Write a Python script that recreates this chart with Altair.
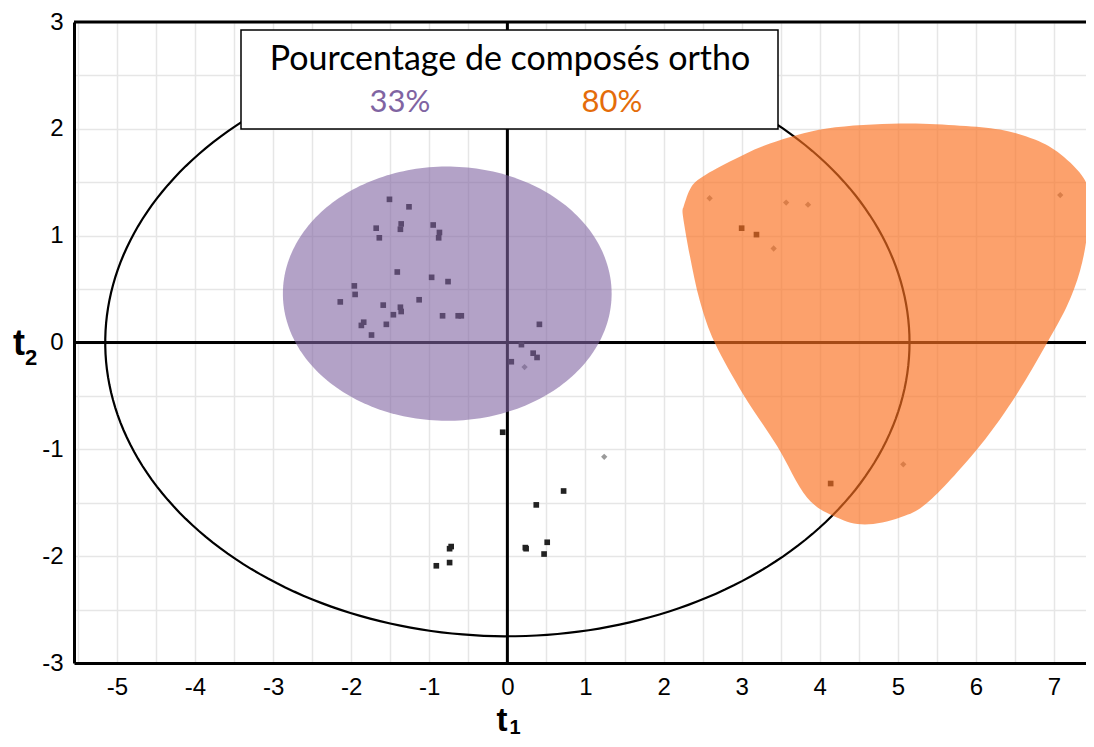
import altair as alt
import pandas as pd
import numpy as np

# ---------------- data ----------------
# black squares (scores)
sq_t1 = [-1.51, -1.26, -1.36, -1.37, -1.68, -1.64, -0.95, -0.87, -0.88, -1.41, -0.97, -0.76,
         -1.96, -1.95, -2.14, -1.13, -1.59, -1.37, -1.36, -1.46, -0.83, -0.63, -0.59, -1.84,
         -1.87, -1.55, -1.74, 0.41, 0.18, 0.33, 0.38, 0.05,
         -0.06, 0.72, 0.37, 0.23, 0.24, 0.51, 0.47, -0.72, -0.74, -0.74, -0.91,
         3.00, 3.19, 4.14]
sq_t2 = [1.34, 1.27, 1.11, 1.06, 1.07, 0.98, 1.10, 1.03, 0.98, 0.66, 0.61, 0.57,
         0.53, 0.45, 0.38, 0.40, 0.35, 0.33, 0.29, 0.26, 0.25, 0.25, 0.25, 0.19,
         0.16, 0.17, 0.07, 0.17, -0.02, -0.10, -0.14, -0.18,
         -0.84, -1.39, -1.52, -1.92, -1.93, -1.87, -1.98, -1.91, -1.93, -2.06, -2.09,
         1.07, 1.01, -1.32]
# grey diamonds
dm_t1 = [0.22, 1.24, 2.59, 3.57, 3.85, 3.41, 7.08, 5.07]
dm_t2 = [-0.23, -1.07, 1.35, 1.31, 1.29, 0.88, 1.38, -1.14]

# Hotelling ellipse (centre t1, centre t2, semi-axis t1, semi-axis t2)
hot_ellipse = [0.0, 0.0, 5.15, 2.75]
# 33 % group region (centre, semi-axes)
purple_ellipse = [-0.77, 0.457, 2.105, 1.19]
# 80 % group region outline
orange_t1 = [2.249, 2.338, 2.466, 2.850, 3.363, 4.093, 5.027, 5.795, 6.308, 6.755, 7.088,
             7.383, 7.447, 7.421, 7.332, 7.166, 6.910, 6.526, 6.052, 5.41, 5.027, 4.579,
             4.220, 3.837, 3.452, 3.017, 2.658, 2.466, 2.338, 2.249]
orange_t2 = [1.255, 1.432, 1.535, 1.694, 1.862, 2.002, 2.049, 2.030, 1.993, 1.899, 1.759,
             1.535, 1.321, 0.994, 0.667, 0.341, -0.005, -0.481, -0.966, -1.48, -1.638, -1.703,
             -1.638, -1.451, -0.966, -0.481, -0.005, 0.387, 0.807, 1.180]

x_grid = [v / 2 for v in range(-11, 15)]
y_grid = [v / 2 for v in range(-6, 7)]

legend_title = "Pourcentage de composés ortho"
legend_items = ["33%", "80%"]

X_DOM = [-5.55, 7.41]
Y_DOM = [-3, 3]
W, H = 1012, 641

xs = alt.Scale(domain=X_DOM, nice=False, zero=False)
ys = alt.Scale(domain=Y_DOM, nice=False, zero=False)

LBL = dict(ticks=False, grid=True, gridColor="#e6e6e6", gridWidth=1.5,
           domainColor="black", domainWidth=3, labelFont="Liberation Sans",
           labelFontSize=24, labelColor="black", labelOverlap=False, labelFlush=False, title=None)
x_axis = alt.Axis(values=x_grid, labelExpr="datum.value % 1 === 0 ? '' + datum.value : ''",
                  labelPadding=12, **LBL)
y_axis = alt.Axis(values=y_grid, labelExpr="datum.value % 1 === 0 ? '' + datum.value : ''",
                  labelPadding=11, **LBL)


def X(f="x"):
    return alt.X(f + ":Q", scale=xs, axis=x_axis)


def Y(f="y"):
    return alt.Y(f + ":Q", scale=ys, axis=y_axis)


def ellipse_df(p, n=240):
    th = np.linspace(0, 2 * np.pi, n)
    return pd.DataFrame({"x": p[0] + p[2] * np.cos(th), "y": p[1] + p[3] * np.sin(th), "o": np.arange(n)})


hot = alt.Chart(ellipse_df(hot_ellipse)).mark_line(color="black", strokeWidth=2.2).encode(
    x=X(), y=Y(), order="o:Q")

zero = pd.DataFrame({"x": [0.0], "y": [0.0]})
hline = alt.Chart(zero).mark_rule(color="black", strokeWidth=3).encode(
    y=Y(), x=alt.value(0), x2=alt.value(W))
vline = alt.Chart(zero).mark_rule(color="black", strokeWidth=3).encode(
    x=X(), y=alt.value(0), y2=alt.value(H))
one = pd.DataFrame({"a": [0]})
topline = alt.Chart(one).mark_rule(color="black", strokeWidth=3).encode(
    y=alt.value(0), x=alt.value(0), x2=alt.value(W))

sq = alt.Chart(pd.DataFrame({"x": sq_t1, "y": sq_t2})).mark_point(
    shape="square", filled=True, size=32, color="#222222", opacity=1).encode(x=X(), y=Y())
dm = alt.Chart(pd.DataFrame({"x": dm_t1, "y": dm_t2})).mark_point(
    shape="diamond", filled=True, size=40, color="#9a9a9a", opacity=1).encode(x=X(), y=Y())

purple = alt.Chart(ellipse_df(purple_ellipse)).mark_line(
    fill="#8064a2", fillOpacity=0.6, strokeOpacity=0, stroke="#8064a2").encode(
    x=X(), y=Y(), order="o:Q")

odf = pd.DataFrame({"x": orange_t1 + orange_t1[:1], "y": orange_t2 + orange_t2[:1],
                    "o": list(range(len(orange_t1) + 1))})
orange = alt.Chart(odf).mark_line(
    fill="#fa7020", fillOpacity=0.66, strokeOpacity=0, stroke="#fa7020",
    interpolate="cardinal-closed", clip=True).encode(x=X(), y=Y(), order="o:Q")

box = alt.Chart(one).mark_rect(fill="white", stroke="black", strokeWidth=1.5).encode(
    x=alt.value(167), x2=alt.value(704), y=alt.value(8), y2=alt.value(107))
ttl = alt.Chart(pd.DataFrame({"t": [legend_title]})).mark_text(
    font="Lato", fontSize=34, color="black", align="center", baseline="alphabetic").encode(
    text="t:N", x=alt.value(436), y=alt.value(48))
it33 = alt.Chart(pd.DataFrame({"t": [legend_items[0]]})).mark_text(
    font="Lato", fontSize=31, color="#8064a2", align="center", baseline="alphabetic").encode(
    text="t:N", x=alt.value(326), y=alt.value(90))
it80 = alt.Chart(pd.DataFrame({"t": [legend_items[1]]})).mark_text(
    font="Lato", fontSize=31, color="#e46c0a", align="center", baseline="alphabetic").encode(
    text="t:N", x=alt.value(538), y=alt.value(90))

t2a = alt.Chart(pd.DataFrame({"t": ["t"]})).mark_text(
    font="Liberation Sans", fontWeight="bold", fontSize=36, color="black", align="center",
    baseline="alphabetic").encode(text="t:N", x=alt.value(-55), y=alt.value(333))
t2b = alt.Chart(pd.DataFrame({"t": ["2"]})).mark_text(
    font="Liberation Sans", fontWeight="bold", fontSize=22, color="black", align="center",
    baseline="alphabetic").encode(text="t:N", x=alt.value(-43), y=alt.value(343))
t1a = alt.Chart(pd.DataFrame({"t": ["t"]})).mark_text(
    font="Liberation Sans", fontWeight="bold", fontSize=33, color="black", align="center",
    baseline="alphabetic").encode(text="t:N", x=alt.value(428), y=alt.value(709))
t1b = alt.Chart(pd.DataFrame({"t": ["1"]})).mark_text(
    font="Liberation Sans", fontWeight="bold", fontSize=20, color="black", align="center",
    baseline="alphabetic").encode(text="t:N", x=alt.value(441), y=alt.value(712))

chart = alt.layer(hot, hline, vline, sq, dm, purple, orange, topline, box, ttl, it33, it80,
                  t2a, t2b, t1a, t1b).properties(
    width=W, height=H,
    autosize=alt.AutoSizeParams(type="none"),
    padding={"left": 66, "top": 14, "right": 0, "bottom": 76},
).configure_view(stroke=None).configure(background="white")

chart.save("out.html", embed_options={"renderer": "svg", "actions": False})
